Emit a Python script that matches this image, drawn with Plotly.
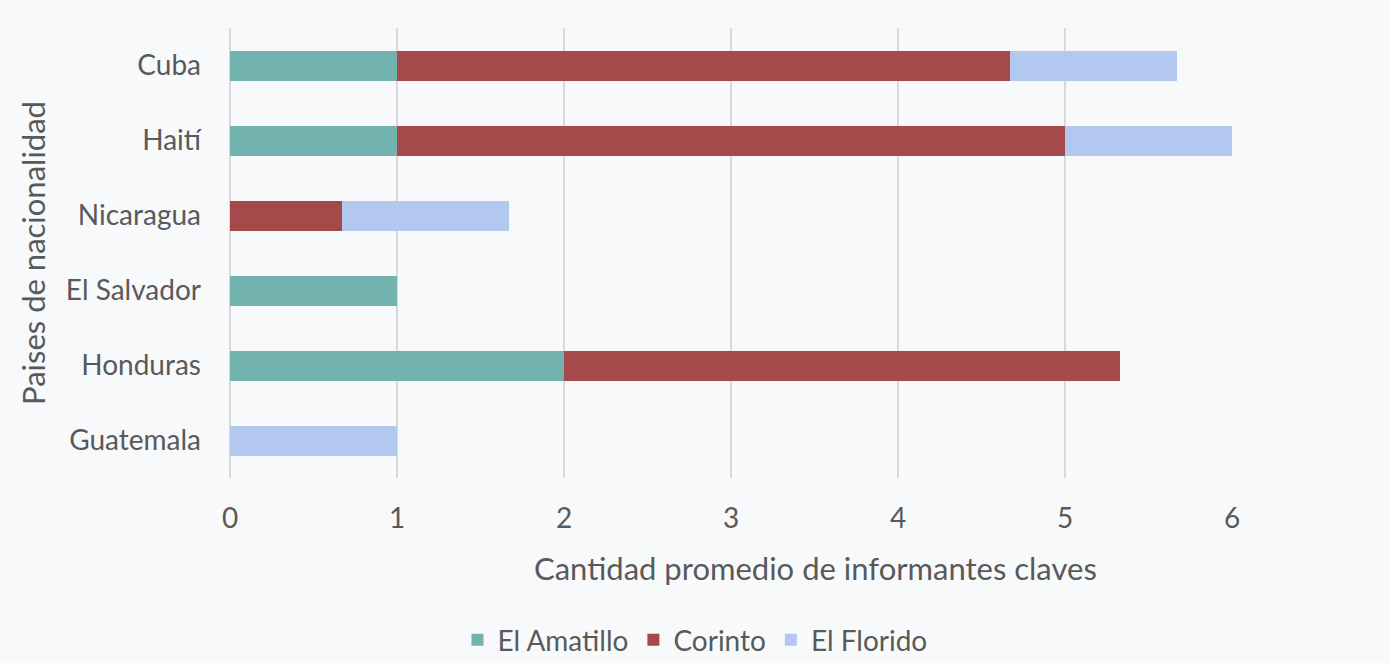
import plotly.graph_objects as go

paises = ["Cuba", "Haití", "Nicaragua", "El Salvador", "Honduras", "Guatemala"]
el_amatillo = [1, 1, 0, 1, 2, 0]
corinto = [3.67, 4, 0.67, 0, 3.33, 0]
el_florido = [1, 1, 1, 0, 0, 1]

series = [
    ("El Amatillo", el_amatillo, "#72B2AF"),
    ("Corinto", corinto, "#A54A4A"),
    ("El Florido", el_florido, "#B3C8EE"),
]

FONT = "Lato, Open Sans, sans-serif"
fig = go.Figure()
for name, vals, color in series:
    fig.add_trace(go.Bar(
        y=paises, x=vals, name=name, orientation="h",
        marker=dict(color=color, line=dict(width=0)),
    ))

fig.add_annotation(text="Cantidad promedio de informantes claves", xref="paper", yref="paper",
                   x=0.584, y=-0.20, xanchor="center", yanchor="middle", showarrow=False,
                   font=dict(size=31, color="#595959"))

fig.update_layout(
    barmode="stack",
    bargap=0.6,
    width=1390, height=663,
    margin=dict(l=230, r=158, t=28, b=185, autoexpand=False),
    paper_bgcolor="#F8F9FB",
    plot_bgcolor="#F8F9FB",
    font=dict(family=FONT, color="#595959", size=28),
    legend=dict(orientation="h", xref="container", yref="paper",
                x=0.5, xanchor="center", y=-0.36, yanchor="middle",
                font=dict(size=28), traceorder="normal"),
    xaxis=dict(range=[0, 6], dtick=1, showgrid=True, gridcolor="#D9D9D9", gridwidth=1.5,
               zeroline=True, zerolinecolor="#D9D9D9", zerolinewidth=1.5,
               tickfont=dict(size=28), ticklen=0, ticks="", ticklabelstandoff=21),
    yaxis=dict(autorange="reversed", tickfont=dict(size=28), ticks="", ticklen=0,
               ticklabelstandoff=28,
               title=dict(text="Paises de nacionalidad", font=dict(size=31), standoff=10)),
)
fig.write_html("out.html", config={"displayModeBar": False},
               post_script="document.body.style.margin='0';document.body.style.padding='0';")
